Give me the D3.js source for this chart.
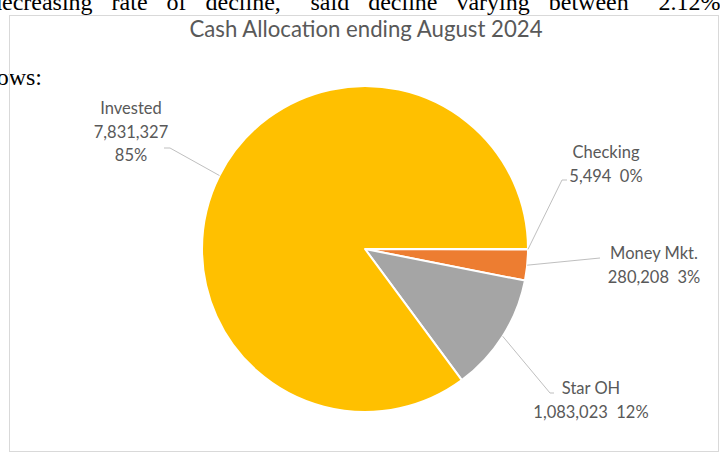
<!DOCTYPE html>
<html>
<head>
<meta charset="utf-8">
<script src="https://cdn.jsdelivr.net/npm/d3@7/dist/d3.min.js"></script>
<style>
  html, body { margin: 0; padding: 0; background: #fff; }
  svg { display: block; }
</style>
</head>
<body>
<svg id="chart" width="720" height="455"></svg>
<script>
// ---- Data ----
const title = "Cash Allocation ending August 2024";
const categories = ["Checking", "Money Mkt.", "Star OH", "Invested"];
const values = [5494, 280208, 1083023, 7831327];
const colors = ["#5B9BD5", "#ED7D31", "#A5A5A5", "#FFC000"];
const docLine1 = "decreasing rate of decline, \u201Csaid decline varying between \u201C2.12%";
const docLine2 = "follows:";

// ---- Layout ----
const W = 720, H = 455;
const cx = 365, cy = 249, R = 163;
const labelFont = "Lato, 'Open Sans', sans-serif";
const textColor = "#595959";
// label layout: text centre x, first baseline y, leader elbow (relative to centre), line layout
const labelLayout = [
  { tx: 606, ty: 158, elbow: [197, -69], tail: 5, multi: false },
  { tx: 654, ty: 259, elbow: [235, 9], tail: 0, multi: false },
  { tx: 591, ty: 394, elbow: [185, 144], tail: 4, multi: false },
  { tx: 131, ty: 114, elbow: [-195, -101], tail: -6, multi: true }
];
const lineGap = 23.5;

const svg = d3.select("#chart");

// document text behind the chart (cropped, justified)
svg.append("text")
  .attr("x", -10).attr("y", 10)
  .attr("font-family", "'Liberation Serif', 'Times New Roman', serif")
  .attr("font-size", 24)
  .style("word-spacing", "13px")
  .attr("fill", "#000")
  .text(docLine1);
svg.append("text")
  .attr("x", 42).attr("y", 85)
  .attr("text-anchor", "end")
  .attr("font-family", "'Liberation Serif', 'Times New Roman', serif")
  .attr("font-size", 24)
  .attr("fill", "#000")
  .text(docLine2);

// chart area border
svg.append("rect")
  .attr("x", 9.5).attr("y", 15.5)
  .attr("width", 709).attr("height", 436)
  .attr("fill", "none")
  .attr("stroke", "#d9d9d9")
  .attr("stroke-width", 1);

// title
svg.append("text")
  .attr("x", 366).attr("y", 37)
  .attr("text-anchor", "middle")
  .attr("font-family", labelFont)
  .attr("font-size", 22.2)
  .attr("fill", textColor)
  .text(title);

const total = d3.sum(values);
const data = categories.map((c, i) => ({ name: c, value: values[i], color: colors[i], i }));

const pie = d3.pie()
  .sort(null)
  .value(d => d.value)
  .startAngle(Math.PI / 2)
  .endAngle(Math.PI / 2 + 2 * Math.PI);

const arcs = pie(data);
const arc = d3.arc().innerRadius(0).outerRadius(R);

const g = svg.append("g").attr("transform", `translate(${cx},${cy})`);

g.selectAll("path.slice")
  .data(arcs)
  .join("path")
  .attr("class", "slice")
  .attr("d", arc)
  .attr("fill", d => d.data.color)
  .attr("stroke", "#fff")
  .attr("stroke-width", 2)
  .attr("stroke-linejoin", "round");

const fmtNum = d3.format(",");
const fmtPct = v => Math.round(v / total * 100) + "%";

// leader lines
arcs.forEach((a, k) => {
  const L = labelLayout[k];
  const mid = (a.startAngle + a.endAngle) / 2;
  const p0 = [Math.sin(mid) * R, -Math.cos(mid) * R];
  const p1 = L.elbow;
  const p2 = [p1[0] + L.tail, p1[1]];
  g.append("polyline")
    .attr("points", [p0, p1, p2].map(p => p.join(",")).join(" "))
    .attr("fill", "none")
    .attr("stroke", "#bfbfbf")
    .attr("stroke-width", 1);
});

// labels
arcs.forEach((a, k) => {
  const L = labelLayout[k];
  const d = a.data;
  const lines = L.multi
    ? [d.name, fmtNum(d.value), fmtPct(d.value)]
    : [d.name, fmtNum(d.value) + "\u00A0\u00A0" + fmtPct(d.value)];
  const t = svg.append("text")
    .attr("text-anchor", "middle")
    .attr("font-family", labelFont)
    .attr("font-size", 16.5)
    .attr("fill", textColor);
  lines.forEach((ln, j) => {
    t.append("tspan")
      .attr("x", L.tx)
      .attr("y", L.ty + j * lineGap)
      .text(ln);
  });
});
</script>
</body>
</html>
